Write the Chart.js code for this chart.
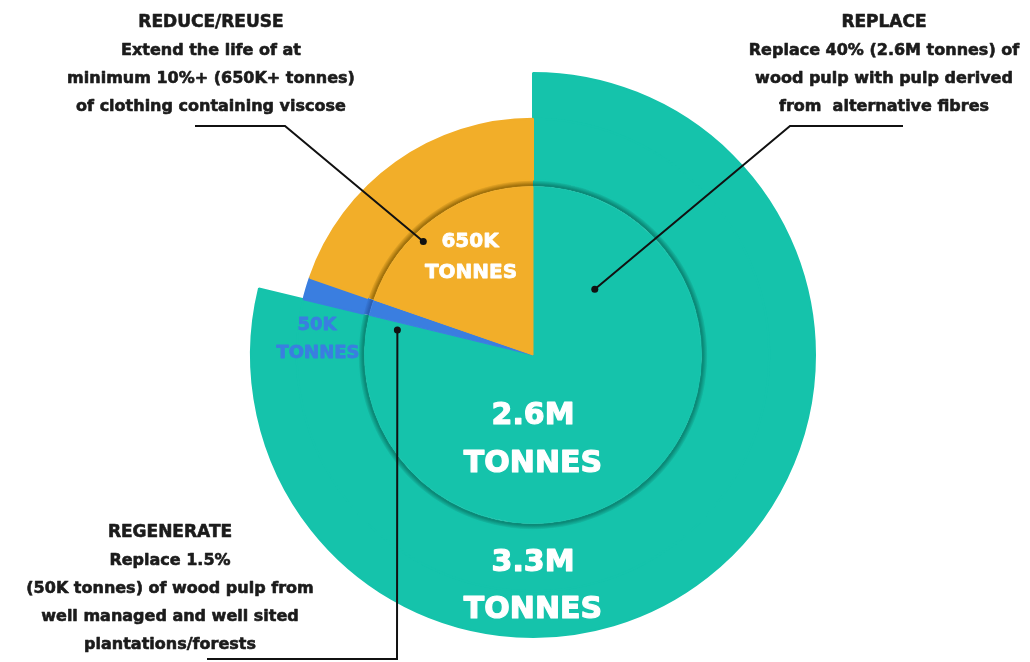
<!DOCTYPE html>
<html>
<head>
<meta charset="utf-8">
<script src="https://cdn.jsdelivr.net/npm/chart.js@4"></script>
<style>
  html, body { margin: 0; padding: 0; background: #fff; }
  #wrap { width: 1030px; height: 662px; }
</style>
</head>
<body>
<div id="wrap"><canvas id="myChart" width="1030" height="662"></canvas></div>
<script>
// data (tonnes of wood pulp)
const categories = ['Replace', 'Regenerate', 'Reduce/Reuse'];
const tonnes = [2600000, 50000, 650000];
const sliceColors = ['#15c3ab', '#3a7ee0', '#f2ae29'];
const shadeColors = ['#0b8a78', '#2a5fb4', '#a2720c'];

const totalLabel = ['3.3M', 'TONNES'];
const replaceLabel = ['2.6M', 'TONNES'];
const reduceLabel = ['650K', 'TONNES'];
const regenLabel = ['50K', 'TONNES'];

document.addEventListener("DOMContentLoaded", function () {
    const ctx = document.getElementById('myChart').getContext('2d');
    const FONT = '"DejaVu Sans", sans-serif';
    const clear = 'rgba(0,0,0,0)';

    // ring thickness (outer -> inner): teal rim, outer band, shadow, inner disc
    const ringWeights = [46, 62, 6, 169];
    const weightSum = ringWeights.reduce((a, b) => a + b, 0);

    // outer ring only shows the big teal slice
    const outerColors = sliceColors.map((c, i) => i === 0 ? c : clear);

    // thin ring that fakes the drop shadow round the inner 2.6M disc
    function shadeRing(context) {
        const chart = context.chart;
        const area = chart.chartArea;
        const i = context.dataIndex || 0;
        if (!area) return sliceColors[i];
        const cx = (area.left + area.right) / 2;
        const cy = (area.top + area.bottom) / 2;
        const R = Math.min(area.right - area.left, area.bottom - area.top) / 2;
        const r1 = R - R * (ringWeights[0] + ringWeights[1]) / weightSum;
        const r0 = r1 - R * ringWeights[2] / weightSum;
        if (!isFinite(r0) || r0 < 0) return sliceColors[i];
        const g = chart.ctx.createRadialGradient(cx, cy, r0, cx, cy, r1);
        g.addColorStop(0, shadeColors[i]);
        g.addColorStop(0.2, shadeColors[i]);
        g.addColorStop(1, sliceColors[i]);
        return g;
    }

    // block texts, leader lines from text to a dot inside the pie
    const notes = [
        { x: 211, y: 23, lines: ['REDUCE/REUSE', 'Extend the life of at', 'minimum 10%+ (650K+ tonnes)', 'of clothing containing viscose'] },
        { x: 884, y: 23, lines: ['REPLACE', 'Replace 40% (2.6M tonnes) of', 'wood pulp with pulp derived', 'from  alternative fibres'] },
        { x: 170, y: 533, lines: ['REGENERATE', 'Replace 1.5%', '(50K tonnes) of wood pulp from', 'well managed and well sited', 'plantations/forests'] }
    ];
    // dots: angle (deg, clockwise from 12 o'clock) and share of outer radius
    const leaders = [
        { path: [[195, 126], [285, 126]], angle: 316, r: 0.56 },
        { path: [[903, 126], [790, 126]], angle: 43.2, r: 0.32 },
        { path: [[207, 659], [397, 659]], angle: 280.4, r: 0.489 }
    ];

    function heavyText(c, t, x, y, w) {
        c.lineWidth = w;
        c.strokeText(t, x, y);
        c.fillText(t, x, y);
    }

    const annotate = {
        id: 'annotate',
        afterDraw(chart) {
            const c = chart.ctx;
            const arc = chart.getDatasetMeta(0).data[0];
            const cx = arc.x, cy = arc.y, R = arc.outerRadius;

            c.save();
            c.textAlign = 'center';
            c.textBaseline = 'middle';
            c.lineJoin = 'round';

            // in-slice labels
            c.fillStyle = '#ffffff';
            c.strokeStyle = '#ffffff';
            c.font = 'bold 30px ' + FONT;
            heavyText(c, replaceLabel[0], cx, cy + 61, 1.2);
            heavyText(c, replaceLabel[1], cx, cy + 109, 1.2);
            heavyText(c, totalLabel[0], cx, cy + 208, 1.2);
            heavyText(c, totalLabel[1], cx, cy + 255, 1.2);

            c.font = 'bold 20px ' + FONT;
            heavyText(c, reduceLabel[0], cx - 63, cy - 113, 0.8);
            heavyText(c, reduceLabel[1], cx - 62, cy - 82, 0.8);

            c.fillStyle = sliceColors[1];
            c.strokeStyle = sliceColors[1];
            c.font = 'bold 18px ' + FONT;
            heavyText(c, regenLabel[0], cx - 216, cy - 30, 0.8);
            heavyText(c, regenLabel[1], cx - 215, cy - 2, 0.8);

            // note blocks
            c.fillStyle = '#1b1b1b';
            c.strokeStyle = '#1b1b1b';
            notes.forEach(n => {
                n.lines.forEach((t, k) => {
                    c.font = (k === 0 ? 'bold 17px ' : 'bold 16px ') + FONT;
                    heavyText(c, t, n.x, n.y + k * 28, 0.6);
                });
            });

            // leader lines
            c.strokeStyle = '#111111';
            c.fillStyle = '#111111';
            c.lineWidth = 2;
            c.lineJoin = 'miter';
            leaders.forEach(l => {
                const a = (l.angle - 90) * Math.PI / 180;
                const dx = cx + Math.cos(a) * R * l.r;
                const dy = cy + Math.sin(a) * R * l.r;
                c.beginPath();
                c.moveTo(l.path[0][0], l.path[0][1]);
                c.lineTo(l.path[1][0], l.path[1][1]);
                c.lineTo(dx, dy);
                c.stroke();
                c.beginPath();
                c.arc(dx, dy, 3.5, 0, Math.PI * 2);
                c.fill();
            });
            c.restore();
        }
    };

    const data = {
        labels: categories,
        datasets: [
            { data: tonnes, backgroundColor: outerColors, borderColor: outerColors, borderWidth: 2, weight: ringWeights[0], order: 3 },
            { data: tonnes, backgroundColor: sliceColors, borderColor: sliceColors, borderWidth: 2, weight: ringWeights[1], order: 2 },
            { data: tonnes, backgroundColor: shadeRing, borderWidth: 0, weight: ringWeights[2], order: 1 },
            { data: tonnes, backgroundColor: sliceColors, borderColor: sliceColors, borderWidth: 1, weight: ringWeights[3], order: 0 }
        ]
    };

    const options = {
        responsive: false,
        animation: false,
        layout: { padding: { top: 72, bottom: 24, left: 250, right: 214 } },
        plugins: {
            legend: { display: false },
            tooltip: { enabled: false }
        }
    };

    new Chart(ctx, {
        type: 'pie',
        data: data,
        options: options,
        plugins: [annotate]
    });
});
</script>
</body>
</html>
